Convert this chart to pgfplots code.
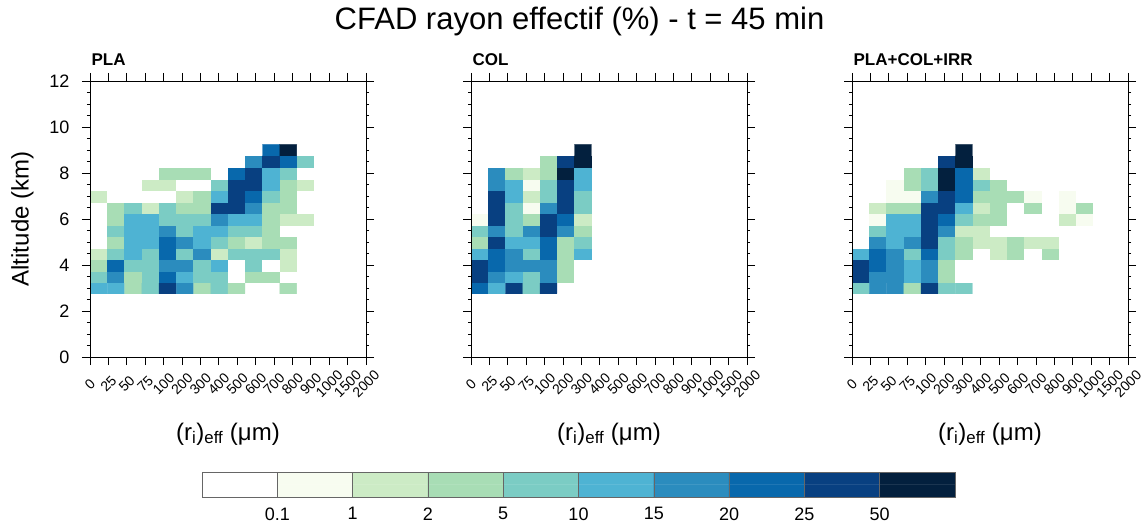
\documentclass[border=0pt]{standalone}
\usepackage{pgfplots}
\pgfplotsset{compat=1.18}
\usepackage{fontspec}
\setmainfont{Liberation Sans}

\pgfplotsset{
  colormap={cfad}{rgb255=(255,255,255) rgb255=(247,252,240) rgb255=(204,235,197) rgb255=(168,221,181) rgb255=(123,204,196) rgb255=(78,179,211) rgb255=(43,140,190) rgb255=(8,104,172) rgb255=(8,64,129) rgb255=(3,32,62)},
  cfadpanel/.style={
    scale only axis, width=276pt, height=276pt,
    xmin=0, xmax=16, ymin=0, ymax=12,
    axis on top, colormap name=cfad, colormap access=direct,
    /pgf/number format/assume math mode=true,
    axis line style={line width=0.8pt},
    every tick/.style={black, line width=0.8pt},
    tick align=outside, major tick length=8pt, minor tick length=3pt,
    xtick={0,1.06667,2.13333,3.2,4.26667,5.33333,6.4,7.46667,8.53333,9.6,10.66667,11.73333,12.8,13.86667,14.93333,16},
    xticklabels={0,25,50,75,100,200,300,400,500,600,700,800,900,1000,1500,2000},
    xticklabel pos=lower,
    ytick={0,2,...,12}, minor y tick num=3,
    yticklabel style={font=\fontsize{18}{18}\selectfont, xshift=-9pt},
    xticklabel style={font=\fontsize{14}{14}\selectfont, rotate=45, anchor=center},
    xticklabel shift=19pt,
    title style={at={(rel axis cs:-0.007,1.033)}, anchor=base west, font=\fontsize{17}{17}\selectfont\bfseries},
    xlabel={(r\textsubscript{i})\textsubscript{eff} (μm)},
    xlabel style={at={(rel axis cs:0.5,-0.279)}, anchor=center, font=\fontsize{24}{24}\selectfont},
    ylabel style={at={(rel axis cs:-0.245,0.5)}, anchor=center, font=\fontsize{24}{24}\selectfont},
  },
  cellplot/.style={matrix plot*, mesh/cols=15, point meta=explicit},
}

\begin{document}
\begin{tikzpicture}
\useasboundingbox (0,0) rectangle (1148pt,528pt);
\node[anchor=base, font=\fontsize{31}{31}\selectfont] at (579.5pt,498pt) {CFAD rayon effectif (\%) - t = 45 min};

% ---------------- PLA
\begin{axis}[cfadpanel, at={(90pt,171pt)}, anchor=south west, title={PLA}, ylabel={Altitude (km)}]
\addplot[cellplot] coordinates {
(0.5,3)[5] (1.5,3)[5] (2.5,3)[3] (3.5,3)[4] (4.5,3)[8] (5.5,3)[6] (6.5,3)[3] (7.5,3)[4] (8.5,3)[3] (9.5,3)[0] (10.5,3)[0] (11.5,3)[3] (12.5,3)[0] (13.5,3)[0] (14.5,3)[0]
(0.5,3.5)[4] (1.5,3.5)[6] (2.5,3.5)[3] (3.5,3.5)[4] (4.5,3.5)[7] (5.5,3.5)[5] (6.5,3.5)[4] (7.5,3.5)[4] (8.5,3.5)[0] (9.5,3.5)[3] (10.5,3.5)[3] (11.5,3.5)[0] (12.5,3.5)[0] (13.5,3.5)[0] (14.5,3.5)[0]
(0.5,4)[3] (1.5,4)[7] (2.5,4)[4] (3.5,4)[4] (4.5,4)[6] (5.5,4)[6] (6.5,4)[4] (7.5,4)[5] (8.5,4)[0] (9.5,4)[4] (10.5,4)[0] (11.5,4)[2] (12.5,4)[0] (13.5,4)[0] (14.5,4)[0]
(0.5,4.5)[2] (1.5,4.5)[4] (2.5,4.5)[5] (3.5,4.5)[4] (4.5,4.5)[7] (5.5,4.5)[4] (6.5,4.5)[6] (7.5,4.5)[2] (8.5,4.5)[4] (9.5,4.5)[4] (10.5,4.5)[4] (11.5,4.5)[2] (12.5,4.5)[0] (13.5,4.5)[0] (14.5,4.5)[0]
(0.5,5)[0] (1.5,5)[3] (2.5,5)[5] (3.5,5)[5] (4.5,5)[7] (5.5,5)[6] (6.5,5)[5] (7.5,5)[4] (8.5,5)[3] (9.5,5)[2] (10.5,5)[3] (11.5,5)[3] (12.5,5)[0] (13.5,5)[0] (14.5,5)[0]
(0.5,5.5)[0] (1.5,5.5)[4] (2.5,5.5)[5] (3.5,5.5)[5] (4.5,5.5)[6] (5.5,5.5)[4] (6.5,5.5)[5] (7.5,5.5)[5] (8.5,5.5)[4] (9.5,5.5)[4] (10.5,5.5)[3] (11.5,5.5)[0] (12.5,5.5)[0] (13.5,5.5)[0] (14.5,5.5)[0]
(0.5,6)[0] (1.5,6)[3] (2.5,6)[5] (3.5,6)[5] (4.5,6)[4] (5.5,6)[4] (6.5,6)[4] (7.5,6)[6] (8.5,6)[5] (9.5,6)[5] (10.5,6)[3] (11.5,6)[2] (12.5,6)[2] (13.5,6)[0] (14.5,6)[0]
(0.5,6.5)[0] (1.5,6.5)[3] (2.5,6.5)[4] (3.5,6.5)[2] (4.5,6.5)[4] (5.5,6.5)[3] (6.5,6.5)[3] (7.5,6.5)[8] (8.5,6.5)[8] (9.5,6.5)[6] (10.5,6.5)[3] (11.5,6.5)[3] (12.5,6.5)[0] (13.5,6.5)[0] (14.5,6.5)[0]
(0.5,7)[2] (1.5,7)[0] (2.5,7)[0] (3.5,7)[0] (4.5,7)[0] (5.5,7)[2] (6.5,7)[3] (7.5,7)[5] (8.5,7)[8] (9.5,7)[7] (10.5,7)[4] (11.5,7)[3] (12.5,7)[0] (13.5,7)[0] (14.5,7)[0]
(0.5,7.5)[0] (1.5,7.5)[0] (2.5,7.5)[0] (3.5,7.5)[2] (4.5,7.5)[2] (5.5,7.5)[0] (6.5,7.5)[0] (7.5,7.5)[4] (8.5,7.5)[8] (9.5,7.5)[8] (10.5,7.5)[5] (11.5,7.5)[3] (12.5,7.5)[2] (13.5,7.5)[0] (14.5,7.5)[0]
(0.5,8)[0] (1.5,8)[0] (2.5,8)[0] (3.5,8)[0] (4.5,8)[3] (5.5,8)[3] (6.5,8)[3] (7.5,8)[0] (8.5,8)[7] (9.5,8)[8] (10.5,8)[5] (11.5,8)[4] (12.5,8)[0] (13.5,8)[0] (14.5,8)[0]
(0.5,8.5)[0] (1.5,8.5)[0] (2.5,8.5)[0] (3.5,8.5)[0] (4.5,8.5)[0] (5.5,8.5)[0] (6.5,8.5)[0] (7.5,8.5)[0] (8.5,8.5)[0] (9.5,8.5)[6] (10.5,8.5)[8] (11.5,8.5)[7] (12.5,8.5)[4] (13.5,8.5)[0] (14.5,8.5)[0]
(0.5,9)[0] (1.5,9)[0] (2.5,9)[0] (3.5,9)[0] (4.5,9)[0] (5.5,9)[0] (6.5,9)[0] (7.5,9)[0] (8.5,9)[0] (9.5,9)[0] (10.5,9)[7] (11.5,9)[9] (12.5,9)[0] (13.5,9)[0] (14.5,9)[0]
};
\end{axis}

% ---------------- COL
\begin{axis}[cfadpanel, at={(471pt,171pt)}, anchor=south west, title={COL}, yticklabels={}]
\addplot[cellplot] coordinates {
(0.5,3)[7] (1.5,3)[5] (2.5,3)[8] (3.5,3)[4] (4.5,3)[8] (5.5,3)[0] (6.5,3)[0] (7.5,3)[0] (8.5,3)[0] (9.5,3)[0] (10.5,3)[0] (11.5,3)[0] (12.5,3)[0] (13.5,3)[0] (14.5,3)[0]
(0.5,3.5)[8] (1.5,3.5)[6] (2.5,3.5)[5] (3.5,3.5)[4] (4.5,3.5)[6] (5.5,3.5)[3] (6.5,3.5)[0] (7.5,3.5)[0] (8.5,3.5)[0] (9.5,3.5)[0] (10.5,3.5)[0] (11.5,3.5)[0] (12.5,3.5)[0] (13.5,3.5)[0] (14.5,3.5)[0]
(0.5,4)[8] (1.5,4)[7] (2.5,4)[6] (3.5,4)[6] (4.5,4)[6] (5.5,4)[3] (6.5,4)[0] (7.5,4)[0] (8.5,4)[0] (9.5,4)[0] (10.5,4)[0] (11.5,4)[0] (12.5,4)[0] (13.5,4)[0] (14.5,4)[0]
(0.5,4.5)[5] (1.5,4.5)[7] (2.5,4.5)[6] (3.5,4.5)[4] (4.5,4.5)[7] (5.5,4.5)[3] (6.5,4.5)[5] (7.5,4.5)[0] (8.5,4.5)[0] (9.5,4.5)[0] (10.5,4.5)[0] (11.5,4.5)[0] (12.5,4.5)[0] (13.5,4.5)[0] (14.5,4.5)[0]
(0.5,5)[3] (1.5,5)[8] (2.5,5)[5] (3.5,5)[5] (4.5,5)[7] (5.5,5)[3] (6.5,5)[4] (7.5,5)[0] (8.5,5)[0] (9.5,5)[0] (10.5,5)[0] (11.5,5)[0] (12.5,5)[0] (13.5,5)[0] (14.5,5)[0]
(0.5,5.5)[4] (1.5,5.5)[6] (2.5,5.5)[4] (3.5,5.5)[6] (4.5,5.5)[8] (5.5,5.5)[6] (6.5,5.5)[3] (7.5,5.5)[0] (8.5,5.5)[0] (9.5,5.5)[0] (10.5,5.5)[0] (11.5,5.5)[0] (12.5,5.5)[0] (13.5,5.5)[0] (14.5,5.5)[0]
(0.5,6)[1] (1.5,6)[8] (2.5,6)[4] (3.5,6)[3] (4.5,6)[8] (5.5,6)[7] (6.5,6)[2] (7.5,6)[0] (8.5,6)[0] (9.5,6)[0] (10.5,6)[0] (11.5,6)[0] (12.5,6)[0] (13.5,6)[0] (14.5,6)[0]
(0.5,6.5)[0] (1.5,6.5)[8] (2.5,6.5)[4] (3.5,6.5)[1] (4.5,6.5)[6] (5.5,6.5)[8] (6.5,6.5)[4] (7.5,6.5)[0] (8.5,6.5)[0] (9.5,6.5)[0] (10.5,6.5)[0] (11.5,6.5)[0] (12.5,6.5)[0] (13.5,6.5)[0] (14.5,6.5)[0]
(0.5,7)[0] (1.5,7)[8] (2.5,7)[5] (3.5,7)[2] (4.5,7)[4] (5.5,7)[8] (6.5,7)[4] (7.5,7)[0] (8.5,7)[0] (9.5,7)[0] (10.5,7)[0] (11.5,7)[0] (12.5,7)[0] (13.5,7)[0] (14.5,7)[0]
(0.5,7.5)[0] (1.5,7.5)[6] (2.5,7.5)[5] (3.5,7.5)[1] (4.5,7.5)[4] (5.5,7.5)[8] (6.5,7.5)[5] (7.5,7.5)[0] (8.5,7.5)[0] (9.5,7.5)[0] (10.5,7.5)[0] (11.5,7.5)[0] (12.5,7.5)[0] (13.5,7.5)[0] (14.5,7.5)[0]
(0.5,8)[0] (1.5,8)[6] (2.5,8)[3] (3.5,8)[2] (4.5,8)[3] (5.5,8)[9] (6.5,8)[5] (7.5,8)[0] (8.5,8)[0] (9.5,8)[0] (10.5,8)[0] (11.5,8)[0] (12.5,8)[0] (13.5,8)[0] (14.5,8)[0]
(0.5,8.5)[0] (1.5,8.5)[0] (2.5,8.5)[0] (3.5,8.5)[0] (4.5,8.5)[3] (5.5,8.5)[8] (6.5,8.5)[9] (7.5,8.5)[0] (8.5,8.5)[0] (9.5,8.5)[0] (10.5,8.5)[0] (11.5,8.5)[0] (12.5,8.5)[0] (13.5,8.5)[0] (14.5,8.5)[0]
(0.5,9)[0] (1.5,9)[0] (2.5,9)[0] (3.5,9)[0] (4.5,9)[0] (5.5,9)[0] (6.5,9)[9] (7.5,9)[0] (8.5,9)[0] (9.5,9)[0] (10.5,9)[0] (11.5,9)[0] (12.5,9)[0] (13.5,9)[0] (14.5,9)[0]
};
\end{axis}

% ---------------- PLA+COL+IRR
\begin{axis}[cfadpanel, at={(852pt,171pt)}, anchor=south west, title={PLA+COL+IRR}, yticklabels={}]
\addplot[cellplot] coordinates {
(0.5,3)[4] (1.5,3)[6] (2.5,3)[6] (3.5,3)[3] (4.5,3)[8] (5.5,3)[4] (6.5,3)[4] (7.5,3)[0] (8.5,3)[0] (9.5,3)[0] (10.5,3)[0] (11.5,3)[0] (12.5,3)[0] (13.5,3)[0] (14.5,3)[0]
(0.5,3.5)[8] (1.5,3.5)[6] (2.5,3.5)[6] (3.5,3.5)[5] (4.5,3.5)[6] (5.5,3.5)[3] (6.5,3.5)[0] (7.5,3.5)[0] (8.5,3.5)[0] (9.5,3.5)[0] (10.5,3.5)[0] (11.5,3.5)[0] (12.5,3.5)[0] (13.5,3.5)[0] (14.5,3.5)[0]
(0.5,4)[8] (1.5,4)[7] (2.5,4)[6] (3.5,4)[5] (4.5,4)[6] (5.5,4)[3] (6.5,4)[0] (7.5,4)[0] (8.5,4)[0] (9.5,4)[0] (10.5,4)[0] (11.5,4)[0] (12.5,4)[0] (13.5,4)[0] (14.5,4)[0]
(0.5,4.5)[5] (1.5,4.5)[7] (2.5,4.5)[6] (3.5,4.5)[4] (4.5,4.5)[7] (5.5,4.5)[4] (6.5,4.5)[3] (7.5,4.5)[0] (8.5,4.5)[2] (9.5,4.5)[3] (10.5,4.5)[0] (11.5,4.5)[3] (12.5,4.5)[0] (13.5,4.5)[0] (14.5,4.5)[0]
(0.5,5)[0] (1.5,5)[6] (2.5,5)[5] (3.5,5)[6] (4.5,5)[8] (5.5,5)[4] (6.5,5)[3] (7.5,5)[2] (8.5,5)[2] (9.5,5)[3] (10.5,5)[2] (11.5,5)[2] (12.5,5)[0] (13.5,5)[0] (14.5,5)[0]
(0.5,5.5)[0] (1.5,5.5)[4] (2.5,5.5)[5] (3.5,5.5)[5] (4.5,5.5)[8] (5.5,5.5)[6] (6.5,5.5)[2] (7.5,5.5)[2] (8.5,5.5)[0] (9.5,5.5)[0] (10.5,5.5)[0] (11.5,5.5)[0] (12.5,5.5)[0] (13.5,5.5)[0] (14.5,5.5)[0]
(0.5,6)[0] (1.5,6)[1] (2.5,6)[5] (3.5,6)[5] (4.5,6)[8] (5.5,6)[7] (6.5,6)[4] (7.5,6)[3] (8.5,6)[3] (9.5,6)[0] (10.5,6)[0] (11.5,6)[0] (12.5,6)[2] (13.5,6)[1] (14.5,6)[0]
(0.5,6.5)[0] (1.5,6.5)[2] (2.5,6.5)[3] (3.5,6.5)[3] (4.5,6.5)[8] (5.5,6.5)[8] (6.5,6.5)[5] (7.5,6.5)[2] (8.5,6.5)[3] (9.5,6.5)[0] (10.5,6.5)[3] (11.5,6.5)[0] (12.5,6.5)[1] (13.5,6.5)[3] (14.5,6.5)[0]
(0.5,7)[0] (1.5,7)[0] (2.5,7)[1] (3.5,7)[1] (4.5,7)[6] (5.5,7)[8] (6.5,7)[7] (7.5,7)[3] (8.5,7)[3] (9.5,7)[3] (10.5,7)[1] (11.5,7)[0] (12.5,7)[1] (13.5,7)[0] (14.5,7)[0]
(0.5,7.5)[0] (1.5,7.5)[0] (2.5,7.5)[1] (3.5,7.5)[3] (4.5,7.5)[4] (5.5,7.5)[9] (6.5,7.5)[7] (7.5,7.5)[4] (8.5,7.5)[3] (9.5,7.5)[0] (10.5,7.5)[0] (11.5,7.5)[0] (12.5,7.5)[0] (13.5,7.5)[0] (14.5,7.5)[0]
(0.5,8)[0] (1.5,8)[0] (2.5,8)[0] (3.5,8)[3] (4.5,8)[4] (5.5,8)[9] (6.5,8)[7] (7.5,8)[2] (8.5,8)[0] (9.5,8)[0] (10.5,8)[0] (11.5,8)[0] (12.5,8)[0] (13.5,8)[0] (14.5,8)[0]
(0.5,8.5)[0] (1.5,8.5)[0] (2.5,8.5)[0] (3.5,8.5)[0] (4.5,8.5)[0] (5.5,8.5)[8] (6.5,8.5)[9] (7.5,8.5)[0] (8.5,8.5)[0] (9.5,8.5)[0] (10.5,8.5)[0] (11.5,8.5)[0] (12.5,8.5)[0] (13.5,8.5)[0] (14.5,8.5)[0]
(0.5,9)[0] (1.5,9)[0] (2.5,9)[0] (3.5,9)[0] (4.5,9)[0] (5.5,9)[0] (6.5,9)[9] (7.5,9)[0] (8.5,9)[0] (9.5,9)[0] (10.5,9)[0] (11.5,9)[0] (12.5,9)[0] (13.5,9)[0] (14.5,9)[0]
};
\end{axis}

% ---------------- colour bar
\begin{axis}[at={(202pt,31pt)}, anchor=south west, scale only axis, width=753pt, height=25pt,
  xmin=0, xmax=10, ymin=0, ymax=1, axis on top,
  colormap name=cfad, colormap access=direct,
  xtick={1,...,9}, xticklabels={0.1,1,2,5,10,15,20,25,50}, ytick=\empty,
  xticklabel pos=lower, major tick length=0pt,
  xmajorgrids, grid style={black!60, line width=0.6pt},
  axis line style={black!60, line width=0.8pt},
  xticklabel style={font=\fontsize{18}{18}\selectfont, yshift=-7pt}]
\addplot[matrix plot*, mesh/cols=10, point meta=explicit] coordinates {
(0.5,0.25)[0] (1.5,0.25)[1] (2.5,0.25)[2] (3.5,0.25)[3] (4.5,0.25)[4] (5.5,0.25)[5] (6.5,0.25)[6] (7.5,0.25)[7] (8.5,0.25)[8] (9.5,0.25)[9]
(0.5,0.75)[0] (1.5,0.75)[1] (2.5,0.75)[2] (3.5,0.75)[3] (4.5,0.75)[4] (5.5,0.75)[5] (6.5,0.75)[6] (7.5,0.75)[7] (8.5,0.75)[8] (9.5,0.75)[9]
};
\end{axis}
\end{tikzpicture}
\end{document}
